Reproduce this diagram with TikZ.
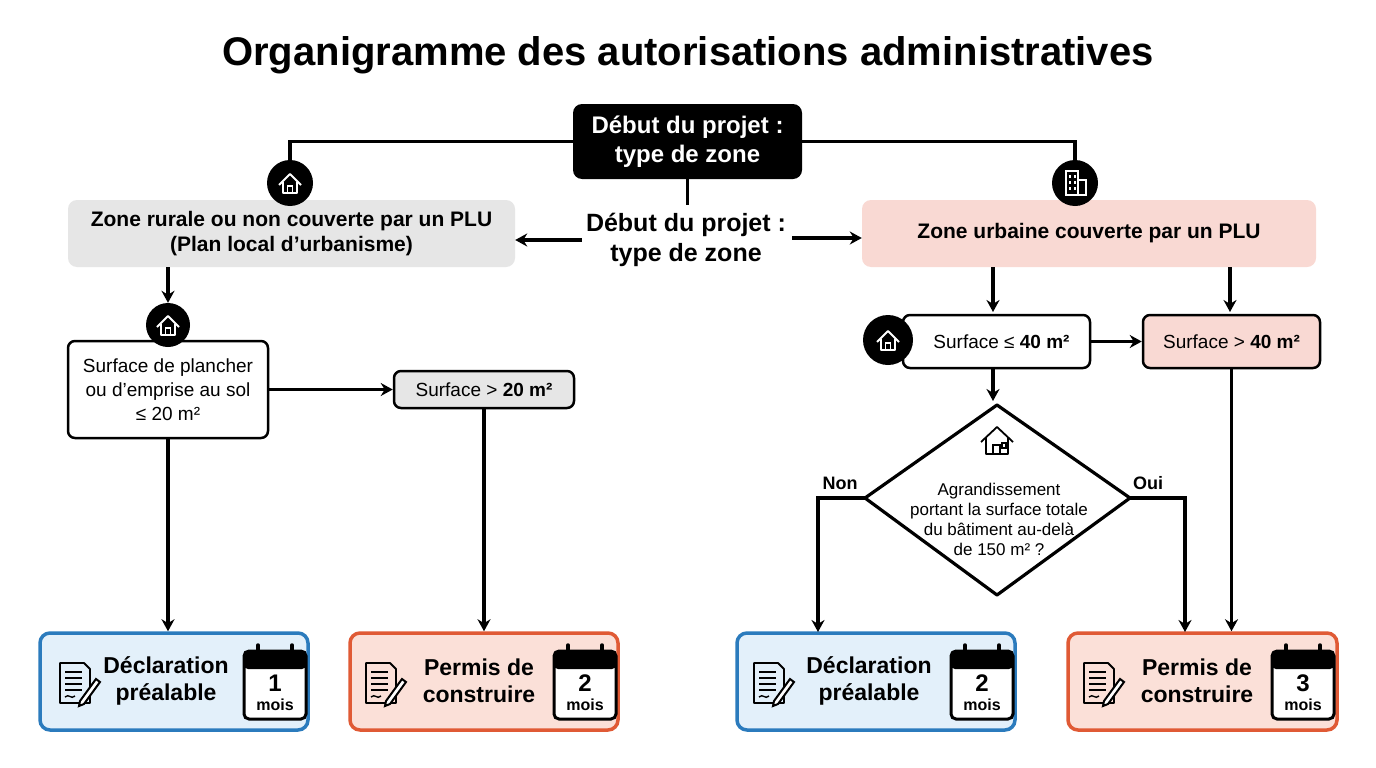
\documentclass[tikz,border=0pt]{standalone}
\usepackage{fontspec}
\setmainfont{Liberation Sans}
\usetikzlibrary{arrows.meta,calc}
\definecolor{gbox}{HTML}{E6E6E6}
\definecolor{pbox}{HTML}{F9D9D3}
\definecolor{bfill}{HTML}{E3F0FA}
\definecolor{bline}{HTML}{2B7BBD}
\definecolor{ofill}{HTML}{FBE0D8}
\definecolor{oline}{HTML}{E05A35}
\tikzset{
  every node/.style={font=\fontsize{18}{21}\selectfont, align=center, inner sep=0pt},
  box/.style={draw=black, line width=2.5pt, rounded corners=7pt, fill=white},
  zone/.style={rounded corners=9pt},
  res/.style={line width=3.5pt, rounded corners=10pt, minimum width=268pt, minimum height=97pt},
  arr/.style={line width=3.2pt, -{Stealth[length=12pt,width=13pt]}},
  ln/.style={line width=3.2pt},
  icon/.style={circle, fill=black, minimum size=46pt},
  house/.pic={
    \draw[white, line width=1.8pt, line join=round] (-11,2) -- (0,-9) -- (11,2) (-7,-1) -- (-7,10) -- (7,10) -- (7,-1);
    \draw[white, line width=1.5pt] (-2.5,10) rectangle (2.5,3);
  },
  bhouse/.pic={
    \draw[black, line width=1.8pt, line join=round] (-16,2) -- (0,-13) -- (16,2) (-11,-2) -- (-11,14) -- (11,14) -- (11,-2);
    \draw[black, line width=1.5pt] (-4,14) rectangle (3,5) (5,3) rectangle (9,8);
  },
  city/.pic={
    \draw[white, line width=1.6pt] (-9,12) rectangle (3,-12) (3,12) rectangle (11,-3);
    \foreach \yy in {-8,-2,4} {\fill[white] (-6,\yy) rectangle (-4,\yy+2.5); \fill[white] (-1,\yy) rectangle (1,\yy+2.5);}
  },
  doc/.pic={
    \draw[black, line width=1.8pt, line join=round] (-16,-20) -- (8,-20) -- (14,-14) -- (14,20) -- (-16,20) -- cycle;
    \foreach \yy in {-11,-5,1,7} \draw[black, line width=1.4pt] (-11,\yy) -- (6,\yy);
    \draw[black, line width=1.4pt] (-11,14) .. controls (-7,10) and (-5,17) .. (-1,13);
    \draw[black, line width=2pt, fill=white] (4,18) -- (20,-4) -- (24,-1) -- (8,21) -- (3,23) -- cycle;
  },
}
\newcommand\calicon[3]{%
  \draw[black, line width=3pt, rounded corners=5pt, fill=white] ($(#1)+(-31,-34)$) rectangle ($(#1)+(31,34)$);
  \fill[black, rounded corners=4pt] ($(#1)+(-31,-34)$) rectangle ($(#1)+(31,-16)$);
  \foreach \dx in {-17,17} \draw[black, line width=3.5pt, line cap=round] ($(#1)+(\dx,-40)$) -- ($(#1)+(\dx,-30)$);
  \node[font=\bfseries\fontsize{24}{24}\selectfont] at ($(#1)+(0,-2)$) {#2};
  \node[font=\bfseries\fontsize{16}{16}\selectfont] at ($(#1)+(0,20)$) {#3};
}
\begin{document}
\begin{tikzpicture}[x=1pt,y=-1pt]
\useasboundingbox[fill=white] (0,0) rectangle (1376,768);
\node[font=\bfseries\fontsize{40}{42}\selectfont] (title) at (688,55) {Organigramme des autorisations administratives};
\node[zone, fill=black, text=white, font=\bfseries\fontsize{24}{29}\selectfont, minimum width=229pt, minimum height=75pt] (top) at (687.5,141.5) {Début du projet :\\ type de zone};
\node[font=\bfseries\fontsize{25}{30}\selectfont] (mid) at (686,240) {Début du projet :\\ type de zone};
\node[zone, fill=gbox, font=\bfseries\fontsize{21}{25}\selectfont, minimum width=447pt, minimum height=67pt] (rur) at (291.5,233.5) {Zone rurale ou non couverte par un PLU\\ (Plan local d'urbanisme)};
\node[zone, fill=pbox, font=\bfseries\fontsize{21}{25}\selectfont, minimum width=454pt, minimum height=67pt] (urb) at (1089,233.5) {Zone urbaine couverte par un PLU};
\node[icon] (ir) at (290,183) {};
\pic at (ir) {house};
\node[icon] (iu) at (1075,183) {};
\pic at (iu) {city};
% top connectors
\draw[ln] (top.west) -- (top.west -| ir) -- (ir.north);
\draw[ln] (top.east) -- (top.east -| iu) -- (iu.north);
\draw[ln] (top.south) -- ++(0,26);
\draw[arr] (mid.west) ++(-4,0) coordinate (ml) -- (rur.east |- ml);
\draw[arr] (mid.east) ++(6,-2) coordinate (mr) -- (urb.west |- mr);
% left branch
\node[box, minimum width=200pt, minimum height=97pt, font=\fontsize{19}{24}\selectfont] (ls) at (168,389.5) {Surface de plancher\\ ou d'emprise au sol\\ ≤ 20 m²};
\node[icon, minimum size=44pt] (il) at (168,325) {};
\pic at (il) {house};
\draw[arr] (rur.south -| ls) -- (il.north);
\node[box, fill=gbox, minimum width=180pt, minimum height=37pt, font=\fontsize{19}{22}\selectfont] (g20) at (484,389.5) {Surface > \textbf{20 m²}};
\draw[arr] (ls.east) -- (g20.west);
% right branch
\node[box, minimum width=187pt, minimum height=53pt, font=\fontsize{19}{22}\selectfont] (l40) at (996.5,341.5) {\hspace*{10pt}Surface ≤ \textbf{40 m²}};
\node[box, fill=pbox, minimum width=177pt, minimum height=53pt, font=\fontsize{19}{22}\selectfont] (g40) at (1231.5,341.5) {Surface > \textbf{40 m²}};
\node[icon, minimum size=50pt] (i40) at (888,340) {};
\pic at (i40) {house};
\draw[arr] (urb.south -| 993,0) -- (993,312);
\draw[arr] (urb.south -| 1230,0) -- (1230,312);
\draw[arr] (l40.east) -- (g40.west);
\coordinate (dt) at (997,405);
\coordinate (db) at (997,595);
\coordinate (dl) at (865,498);
\coordinate (dr) at (1130,498);
\draw[line width=3.2pt, line join=round] (dt) -- (dr) -- (db) -- (dl) -- cycle;
\pic at (997,440) {bhouse};
\node[font=\fontsize{17}{20}\selectfont] (dq) at (999,519) {Agrandissement\\ portant la surface totale\\ du bâtiment au-delà\\ de 150 m² ?};
\draw[arr] (l40.south -| 993,0) -- (993,401);
% results
\node[res, draw=bline, fill=bfill] (dp1) at (174,681.5) {};
\node[res, draw=oline, fill=ofill] (pc2) at (484,681.5) {};
\node[res, draw=bline, fill=bfill, minimum width=278pt] (dp2) at (876,681.5) {};
\node[res, draw=oline, fill=ofill, minimum width=269pt] (pc3) at (1202.5,681.5) {};
\tikzset{rt/.style={font=\bfseries\fontsize{23}{27}\selectfont}}
\node[rt] at (166,681) {Déclaration\\ préalable};
\node[rt] at (479,681) {Permis de\\ construire};
\node[rt] at (869,681) {Déclaration\\ préalable};
\node[rt] at (1197,681) {Permis de\\ construire};
\pic at (76,683) {doc};
\pic at (382,683) {doc};
\pic at (770,683) {doc};
\pic at (1100,683) {doc};
\calicon{275,685}{1}{mois}
\calicon{585,685}{2}{mois}
\calicon{982,685}{2}{mois}
\calicon{1303,685}{3}{mois}
\draw[arr] (ls.south) -- (ls.south |- dp1.north);
\draw[arr] (g20.south) -- (g20.south |- pc2.north);
\draw[arr] (dl) -- (818,498) -- (818,632);
\draw[arr] (dr) -- (1185,498) -- (1185,632);
\draw[arr] (g40.south) -- (g40.south |- pc3.north);
\node[font=\bfseries\fontsize{18}{20}\selectfont] (non) at (840,483) {Non};
\node[font=\bfseries\fontsize{18}{20}\selectfont] (oui) at (1148,483) {Oui};
\end{tikzpicture}
\end{document}
